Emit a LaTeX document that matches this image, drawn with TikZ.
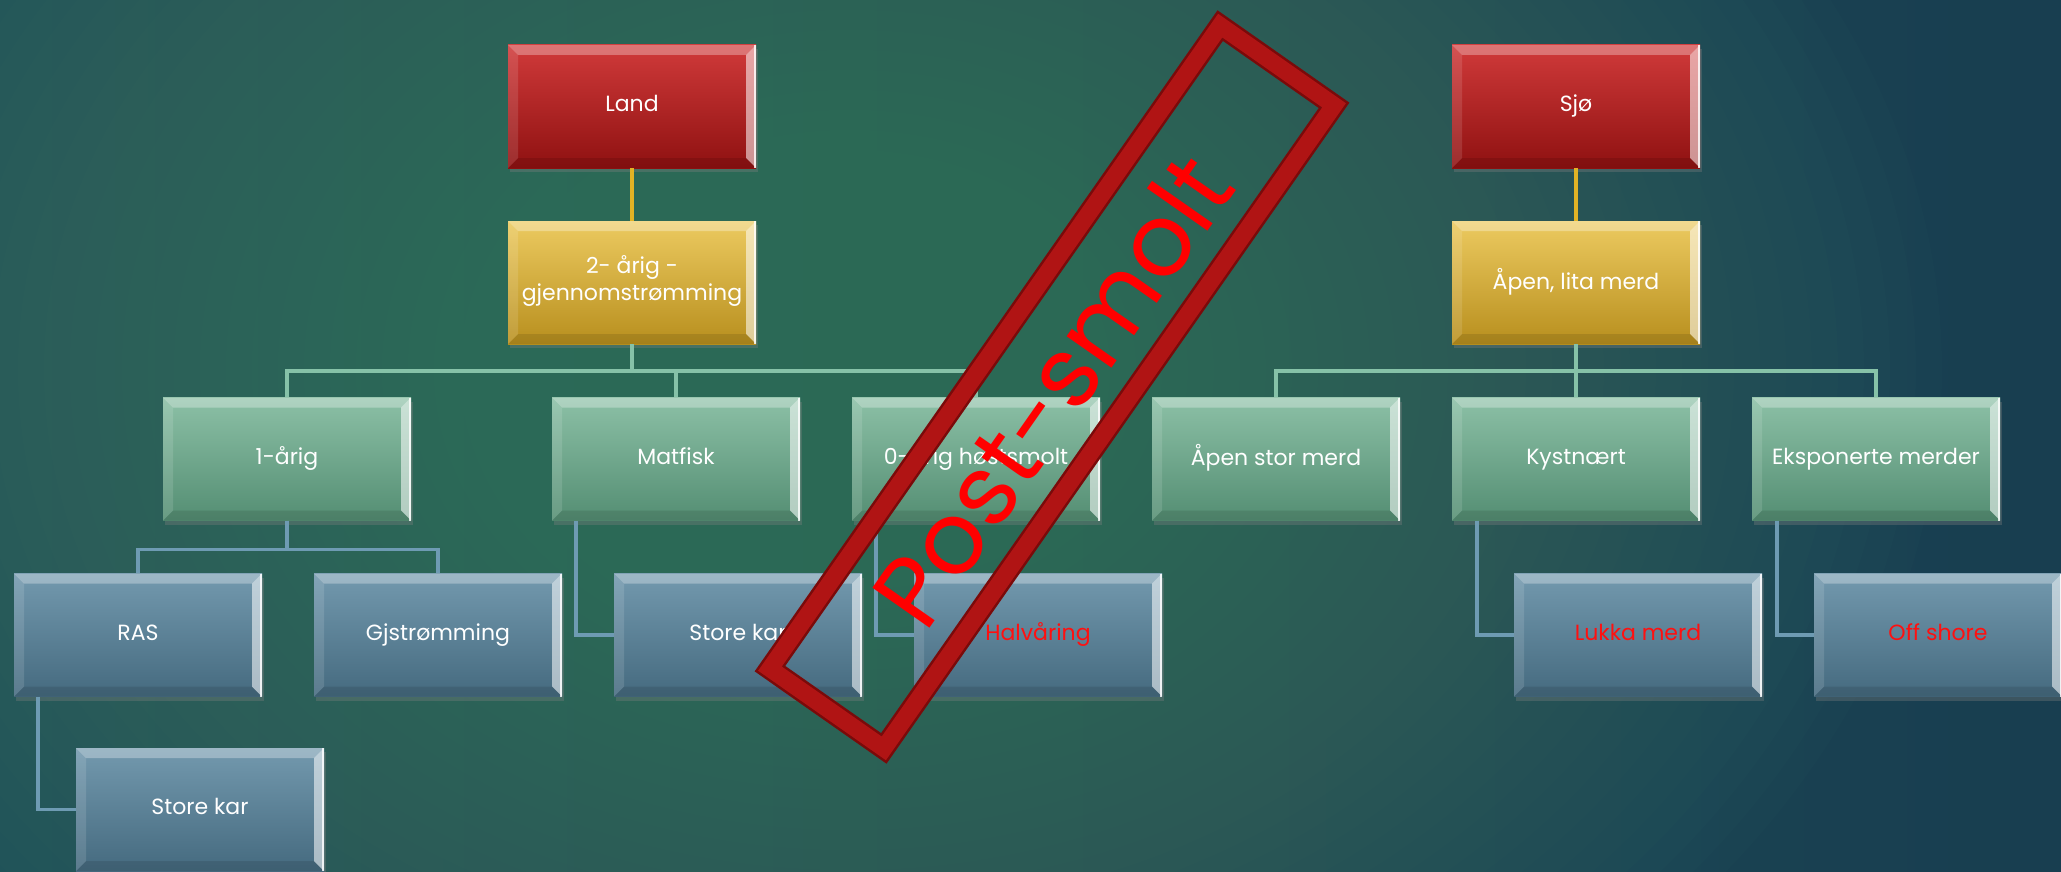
\documentclass[tikz,border=0pt]{standalone}
\usepackage{fontspec}
\setmainfont{Poppins}
\usetikzlibrary{calc,shadows}
\definecolor{redT}{HTML}{D03A3A}
\definecolor{redB}{HTML}{8F1111}
\definecolor{ylwT}{HTML}{ECCA60}
\definecolor{ylwB}{HTML}{B88F1E}
\definecolor{grnT}{HTML}{8CC0A6}
\definecolor{grnB}{HTML}{548E73}
\definecolor{bluT}{HTML}{7399AE}
\definecolor{bluB}{HTML}{456A7F}
\definecolor{lnYlw}{HTML}{E2B325}
\definecolor{lnGrn}{HTML}{86C2A8}
\definecolor{lnBlu}{HTML}{6E9BB3}
\definecolor{stampred}{HTML}{B01414}
\definecolor{stampdark}{HTML}{7A0A0A}
\definecolor{stamptext}{HTML}{FF0000}
\definecolor{labelred}{HTML}{FF1010}
\definecolor{bgL}{HTML}{1F5259}
\definecolor{bgM}{HTML}{245A5E}
\definecolor{bgR}{HTML}{183E50}
\definecolor{bgSpot}{HTML}{4A8874}
\tikzset{
  box/.style={rectangle, minimum width=248pt, minimum height=123pt, inner sep=0pt,
    text=white, font=\fontsize{22}{27}\selectfont, align=center,
    execute at begin node={\strut},
    drop shadow={opacity=.35, shadow xshift=2pt, shadow yshift=-4pt},
    path picture={
      \path (path picture bounding box.north west) coordinate (pA)
            (path picture bounding box.north east) coordinate (pB)
            (path picture bounding box.south east) coordinate (pC)
            (path picture bounding box.south west) coordinate (pD);
      \fill[white,opacity=.30] (pA) -- (pB) -- ([shift={(-10pt,-10pt)}]pB) -- ([shift={(10pt,-10pt)}]pA) -- cycle;
      \fill[white,opacity=.55] (pB) -- (pC) -- ([shift={(-10pt,10pt)}]pC) -- ([shift={(-10pt,-10pt)}]pB) -- cycle;
      \fill[black,opacity=.10] (pC) -- (pD) -- ([shift={(10pt,10pt)}]pD) -- ([shift={(-10pt,10pt)}]pC) -- cycle;
      \fill[white,opacity=.12] (pD) -- (pA) -- ([shift={(10pt,-10pt)}]pA) -- ([shift={(10pt,10pt)}]pD) -- cycle;
      \draw[white,opacity=.8,line width=2pt] ([xshift=-1pt]pB) -- ([xshift=-1pt]pC);
    }},
  redbox/.style={box, top color=redT, bottom color=redB},
  ylwbox/.style={box, top color=ylwT, bottom color=ylwB},
  grnbox/.style={box, top color=grnT, bottom color=grnB},
  blubox/.style={box, top color=bluT, bottom color=bluB},
  redlabel/.style={text=labelred},
  ylwline/.style={draw=lnYlw, line width=4pt},
  grnline/.style={draw=lnGrn, line width=3.5pt},
  bluline/.style={draw=lnBlu, line width=3.5pt},
  stampband/.style={draw=stampdark, line width=2.5pt, double=stampred, double distance=17pt,
    minimum width=785pt, minimum height=139pt, inner sep=0pt},
  stamptxt/.style={text=stamptext, font=\fontsize{100}{110}\selectfont, inner sep=0pt}
}
\begin{document}
\begin{tikzpicture}[x=1pt,y=-1pt]
\useasboundingbox (0,0) rectangle (2061,872);
\begin{scope}
  \clip (0,0) rectangle (2061,872);
  \shade[left color=bgL, middle color=bgM, right color=bgR] (0,0) rectangle (2061,872);
  \foreach \r in {20,40,...,840}{
    \fill[bgSpot, opacity=.032] (850,370) ellipse ({1.3*\r} and \r);
  }
\end{scope}

% level 1
\node[redbox] (land) at (632,106.5) {Land};
\node[redbox] (sjo) at (1576,106.5) {Sjø};
% level 2
\node[ylwbox] (twoyr) at (632,282.5) {2- årig -\\gjennomstrømming};
\node[ylwbox] (apenlita) at (1576,282.5) {Åpen, lita merd};
% level 3
\node[grnbox] (ettarig) at (287,459) {1-årig};
\node[grnbox] (matfisk) at (676,459) {Matfisk};
\node[grnbox] (hostsmolt) at (976,459) {0-årig høstsmolt};
\node[grnbox] (apenstor) at (1276,459) {Åpen stor merd};
\node[grnbox] (kystnaert) at (1576,459) {Kystnært};
\node[grnbox] (eksp) at (1876,459) {Eksponerte merder};
% level 4
\node[blubox] (ras) at (138,635) {RAS};
\node[blubox] (gjstr) at (438,635) {Gjstrømming};
\node[blubox] (storekarB) at (738,635) {Store kar};
\node[blubox, redlabel] (halvaring) at (1038,635) {Halvåring};
\node[blubox, redlabel] (lukka) at (1638,635) {Lukka merd};
\node[blubox, redlabel] (offshore) at (1938,635) {Off shore};
% level 5
\node[blubox] (storekarA) at (200,809.5) {Store kar};

% connectors
\draw[ylwline] (land) -- (twoyr);
\draw[ylwline] (sjo) -- (apenlita);
\draw[grnline] (twoyr.south) -- ++(0,27) -| (ettarig.north);
\draw[grnline] (twoyr.south) -- ++(0,27) -| (matfisk.north);
\draw[grnline] (twoyr.south) -- ++(0,27) -| (hostsmolt.north);
\draw[grnline] (apenlita.south) -- ++(0,27) -| (apenstor.north);
\draw[grnline] (apenlita.south) -- (kystnaert.north);
\draw[grnline] (apenlita.south) -- ++(0,27) -| (eksp.north);
\draw[bluline] (ettarig.south) -- ++(0,29) -| (ras.north);
\draw[bluline] (ettarig.south) -- ++(0,29) -| (gjstr.north);
\draw[bluline] ([xshift=24pt]ras.south west) |- (storekarA.west);
\draw[bluline] ([xshift=24pt]matfisk.south west) |- (storekarB.west);
\draw[bluline] ([xshift=24pt]hostsmolt.south west) |- (halvaring.west);
\draw[bluline] ([xshift=25pt]kystnaert.south west) |- (lukka.west);
\draw[bluline] ([xshift=25pt]eksp.south west) |- (offshore.west);

% stamp
\node[stampband, rotate=55] (stamp) at (1052,387) {};
\node[stamptxt, rotate=55] (stamptext) at (1052,390) {Post-smolt};
\end{tikzpicture}
\end{document}
